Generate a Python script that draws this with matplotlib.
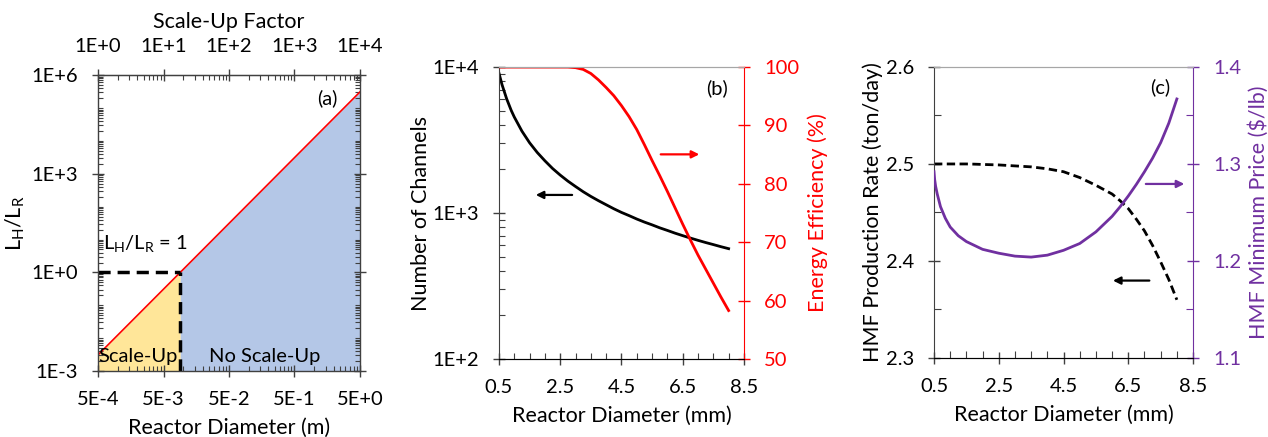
import numpy as np
import matplotlib
matplotlib.use("Agg")
import matplotlib.pyplot as plt
from matplotlib.ticker import FixedLocator, NullFormatter

plt.rcParams['font.family'] = ['Lato', 'DejaVu Sans']
plt.rcParams['mathtext.fontset'] = 'custom'
plt.rcParams['mathtext.rm'] = 'Lato'
plt.rcParams['mathtext.default'] = 'rm'

# ---- panel (a): ratio L_H/L_R vs reactor diameter (m)
a_diam = [5e-4, 9e-3, 5.0]
a_ratio = [3.1e-3, 1.0, 3.1e5]
a_threshold = 9e-3          # diameter where L_H/L_R = 1
a_xticks = [5e-4, 5e-3, 5e-2, 5e-1, 5e0]
a_xticklabels = ['5E-4', '5E-3', '5E-2', '5E-1', '5E+0']
a_yticks = [1e-3, 1e0, 1e3, 1e6]
a_yticklabels = ['1E-3', '1E+0', '1E+3', '1E+6']
a_topticks = [1, 10, 100, 1000, 10000]
a_toplabels = ['1E+0', '1E+1', '1E+2', '1E+3', '1E+4']

# ---- panel (b): channels and energy efficiency vs diameter (mm)
b_diam = [0.5, 0.6, 0.75, 0.9, 1, 1.25, 1.5, 1.75, 2, 2.25, 2.5, 2.75, 3, 3.25, 3.5, 3.75,
          4, 4.25, 4.5, 4.75, 5, 5.25, 5.5, 5.75, 6, 6.25, 6.5, 6.75, 7, 7.25, 7.5, 7.75, 8]
b_channels = [9100, 7580, 6070, 5050, 4550, 3640, 3030, 2600, 2280, 2020, 1820, 1655,
              1520, 1400, 1300, 1215, 1140, 1070, 1010, 960, 910, 867, 830, 792, 760,
              728, 700, 674, 650, 628, 608, 588, 570]
b_efficiency = [100, 100, 100, 100, 100, 100, 100, 100, 100, 100, 100, 100, 99.9, 99.6,
                98.9, 97.8, 96.5, 95.1, 93.4, 91.5, 89.3, 86.7, 84.0, 81.4, 78.7, 75.9,
                73.1, 70.4, 67.8, 65.4, 63.0, 60.6, 58.3]

# ---- panel (c): HMF production rate and minimum price vs diameter (mm)
c_diam = [0.5, 0.52, 0.55, 0.6, 0.7, 0.85, 1, 1.25, 1.5, 1.75, 2, 2.5, 3, 3.5, 4, 4.5,
          5, 5.5, 6, 6.25, 6.5, 6.75, 7, 7.25, 7.5, 7.75, 8]
c_rate = [2.500, 2.500, 2.500, 2.500, 2.500, 2.500, 2.500, 2.500, 2.500, 2.4998, 2.4995,
          2.499, 2.498, 2.497, 2.495, 2.492, 2.486, 2.478, 2.469, 2.462, 2.454, 2.443,
          2.431, 2.416, 2.399, 2.381, 2.360]
c_price = [1.292, 1.284, 1.277, 1.269, 1.256, 1.244, 1.235, 1.226, 1.220, 1.216, 1.212,
           1.208, 1.205, 1.204, 1.206, 1.211, 1.218, 1.230, 1.246, 1.256, 1.267, 1.279,
           1.292, 1.306, 1.322, 1.342, 1.367]

RED = '#FF0000'
PURPLE = '#7030A0'
SPINE = '#404040'
TOPGREY = '#A6A6A6'
TICK_FS = 14.5
LABEL_FS = 15.5
PAD = 10


def log_minors(lo, hi, start):
    """ minor tick positions k*start*10^n inside [lo, hi] """
    vals = []
    base = start
    while base < hi * 1.001:
        for k in range(1, 10):
            v = base * k
            if lo < v < hi * 1.001:
                vals.append(v)
        base *= 10
    return vals


def arrow(ax, x0, x1, y, color):
    """ seta horizontal em coordenadas do eixo """
    ax.annotate('', xy=(x1, y), xytext=(x0, y), xycoords='axes fraction',
                arrowprops=dict(arrowstyle='-|>', color=color, lw=1.6, mutation_scale=11))


fig = plt.figure(figsize=(12.68, 4.37), dpi=100)

# ================= panel (a)
ax_a = fig.add_axes([0.0773, 0.151, 0.2066, 0.677])
ax_a.set_xscale('log')
ax_a.set_yscale('log')
ax_a.set_xlim(5e-4, 5.0)
ax_a.set_ylim(1e-3, 1e6)

d = np.array(a_diam)
r = np.array(a_ratio)
mask_y = d <= a_threshold
mask_b = d >= a_threshold
ax_a.fill_between(d[mask_y], 1e-3, r[mask_y], color='#FFE699', lw=0)
ax_a.fill_between(d[mask_b], 1e-3, r[mask_b], color='#B4C7E7', lw=0)
ax_a.plot(d, r, color=RED, lw=1.2)
ax_a.plot([a_diam[0], a_threshold], [1, 1], color='black', lw=2.5, ls=(0, (3.5, 2)))
ax_a.plot([a_threshold, a_threshold], [1e-3, 1], color='black', lw=2.5, ls=(0, (3.5, 2)))

ax_a.set_xticks(a_xticks)
ax_a.set_xticklabels(a_xticklabels)
ax_a.xaxis.set_minor_locator(FixedLocator(log_minors(5e-4, 5.0, 5e-4)))
ax_a.xaxis.set_minor_formatter(NullFormatter())
ax_a.set_yticks(a_yticks)
ax_a.set_yticklabels(a_yticklabels)
ax_a.yaxis.set_minor_locator(FixedLocator(log_minors(1e-3, 1e6, 1e-3)))
ax_a.yaxis.set_minor_formatter(NullFormatter())
ax_a.tick_params(which='major', direction='inout', length=9, width=1, color=SPINE,
                 labelsize=TICK_FS, right=True, pad=PAD)
ax_a.tick_params(which='minor', direction='in', length=3.5, width=0.8, color=SPINE,
                 right=True)
for s in ax_a.spines.values():
    s.set_color(SPINE)
    s.set_linewidth(1)
ax_a.set_xlabel('Reactor Diameter (m)', fontsize=LABEL_FS, labelpad=7)
ax_a.set_ylabel('L$_\\mathregular{H}$/L$_\\mathregular{R}$', fontsize=LABEL_FS, labelpad=3)

top = ax_a.secondary_xaxis('top', functions=(lambda x: x / 5e-4, lambda f: f * 5e-4))
top.set_xticks(a_topticks)
top.set_xticklabels(a_toplabels)
top.xaxis.set_minor_locator(FixedLocator(log_minors(1, 1e4, 1)))
top.xaxis.set_minor_formatter(NullFormatter())
top.tick_params(which='major', direction='inout', length=9, width=1, color=SPINE,
                labelsize=TICK_FS, pad=PAD)
top.tick_params(which='minor', direction='in', length=3.5, width=0.8, color=SPINE)
top.spines['top'].set_color(SPINE)
top.set_xlabel('Scale-Up Factor', fontsize=LABEL_FS, labelpad=7)

ax_a.text(0.153, 0.05, 'Scale-Up', transform=ax_a.transAxes, fontsize=TICK_FS,
          ha='center', va='center')
ax_a.text(0.637, 0.05, 'No Scale-Up', transform=ax_a.transAxes, fontsize=TICK_FS,
          ha='center', va='center')
ax_a.text(0.18, 0.432, 'L$_\\mathregular{H}$/L$_\\mathregular{R}$ = 1', transform=ax_a.transAxes,
          fontsize=TICK_FS, ha='center', va='center')
ax_a.text(0.874, 0.922, '(a)', transform=ax_a.transAxes, fontsize=TICK_FS,
          ha='center', va='center')

# ================= panel (b)
ax_b = fig.add_axes([0.3935, 0.1785, 0.1932, 0.668])
ax_b.set_yscale('log')
ax_b.set_xlim(0.5, 8.5)
ax_b.set_ylim(1e2, 1e4)
ax_b.plot(b_diam, b_channels, color='black', lw=2)
ax_b.set_xticks([0.5, 2.5, 4.5, 6.5, 8.5])
ax_b.set_xticklabels(['0.5', '2.5', '4.5', '6.5', '8.5'])
ax_b.xaxis.set_minor_locator(FixedLocator(np.arange(1.0, 8.5, 0.5)))
ax_b.set_yticks([1e2, 1e3, 1e4])
ax_b.set_yticklabels(['1E+2', '1E+3', '1E+4'])
ax_b.yaxis.set_minor_locator(FixedLocator(log_minors(1e2, 1e4, 1e2)))
ax_b.yaxis.set_minor_formatter(NullFormatter())
ax_b.tick_params(which='major', direction='inout', length=9, width=1, color=SPINE,
                 labelsize=TICK_FS, pad=PAD)
ax_b.tick_params(which='minor', direction='in', length=4, width=0.8, color=SPINE)
ax_b.spines['left'].set_color(SPINE)
ax_b.spines['bottom'].set_color(SPINE)
ax_b.spines['right'].set_visible(False)
ax_b.spines['top'].set_color(TOPGREY)
ax_b.set_xlabel('Reactor Diameter (mm)', fontsize=LABEL_FS, labelpad=7)
ax_b.set_ylabel('Number of Channels', fontsize=LABEL_FS, labelpad=1)

ax_b2 = ax_b.twinx()
ax_b2.set_ylim(50, 100)
ax_b2.plot(b_diam, b_efficiency, color=RED, lw=2)
ax_b2.set_yticks([50, 60, 70, 80, 90, 100])
ax_b2.tick_params(axis='y', which='major', direction='inout', length=9, width=1, color=RED,
                  labelcolor=RED, labelsize=TICK_FS, pad=PAD)
ax_b2.spines['right'].set_color(RED)
ax_b2.spines['left'].set_visible(False)
ax_b2.spines['top'].set_color(TOPGREY)
ax_b2.set_ylabel('Energy Efficiency (%)', fontsize=LABEL_FS, color=RED, labelpad=6)

arrow(ax_b, 0.310, 0.139, 0.562, 'black')
arrow(ax_b, 0.649, 0.829, 0.701, RED)
ax_b.text(0.889, 0.928, '(b)', transform=ax_b.transAxes, fontsize=TICK_FS,
          ha='center', va='center')

# ================= panel (c)
ax_c = fig.add_axes([0.7366, 0.1808, 0.2043, 0.666])
ax_c.set_xlim(0.5, 8.5)
ax_c.set_ylim(2.3, 2.6)
ax_c.plot(c_diam, c_rate, color='black', lw=2, ls=(0, (3, 1.6)))
ax_c.set_xticks([0.5, 2.5, 4.5, 6.5, 8.5])
ax_c.set_xticklabels(['0.5', '2.5', '4.5', '6.5', '8.5'])
ax_c.xaxis.set_minor_locator(FixedLocator(np.arange(1.0, 8.5, 0.5)))
ax_c.set_yticks([2.3, 2.4, 2.5, 2.6])
ax_c.set_yticklabels(['2.3', '2.4', '2.5', '2.6'])
ax_c.yaxis.set_minor_locator(FixedLocator([2.35, 2.45, 2.55]))
ax_c.tick_params(which='major', direction='inout', length=9, width=1, color=SPINE,
                 labelsize=TICK_FS, pad=PAD)
ax_c.tick_params(which='minor', direction='in', length=5, width=0.8, color=SPINE)
ax_c.spines['left'].set_color(SPINE)
ax_c.spines['bottom'].set_color(SPINE)
ax_c.spines['right'].set_visible(False)
ax_c.spines['top'].set_color(TOPGREY)
ax_c.set_xlabel('Reactor Diameter (mm)', fontsize=LABEL_FS, labelpad=7)
ax_c.set_ylabel('HMF Production Rate (ton/day)', fontsize=LABEL_FS, labelpad=2)

ax_c2 = ax_c.twinx()
ax_c2.set_ylim(1.1, 1.4)
ax_c2.plot(c_diam, c_price, color=PURPLE, lw=2)
ax_c2.set_yticks([1.1, 1.2, 1.3, 1.4])
ax_c2.set_yticklabels(['1.1', '1.2', '1.3', '1.4'])
ax_c2.yaxis.set_minor_locator(FixedLocator([1.15, 1.25, 1.35]))
ax_c2.tick_params(axis='y', which='major', direction='inout', length=9, width=1,
                  color=PURPLE, labelcolor=PURPLE, labelsize=TICK_FS, pad=PAD)
ax_c2.tick_params(axis='y', which='minor', direction='in', length=5, width=0.8,
                  color=PURPLE)
ax_c2.spines['right'].set_color(PURPLE)
ax_c2.spines['left'].set_visible(False)
ax_c2.spines['top'].set_color(TOPGREY)
ax_c2.set_ylabel('HMF Minimum Price ($/lb)', fontsize=LABEL_FS, color=PURPLE, labelpad=5)

arrow(ax_c, 0.807, 0.977, 0.598, PURPLE)
arrow(ax_c, 0.842, 0.680, 0.266, 'black')
ax_c.text(0.873, 0.932, '(c)', transform=ax_c.transAxes, fontsize=TICK_FS,
          ha='center', va='center')

fig.savefig('out.png', dpi=100)
